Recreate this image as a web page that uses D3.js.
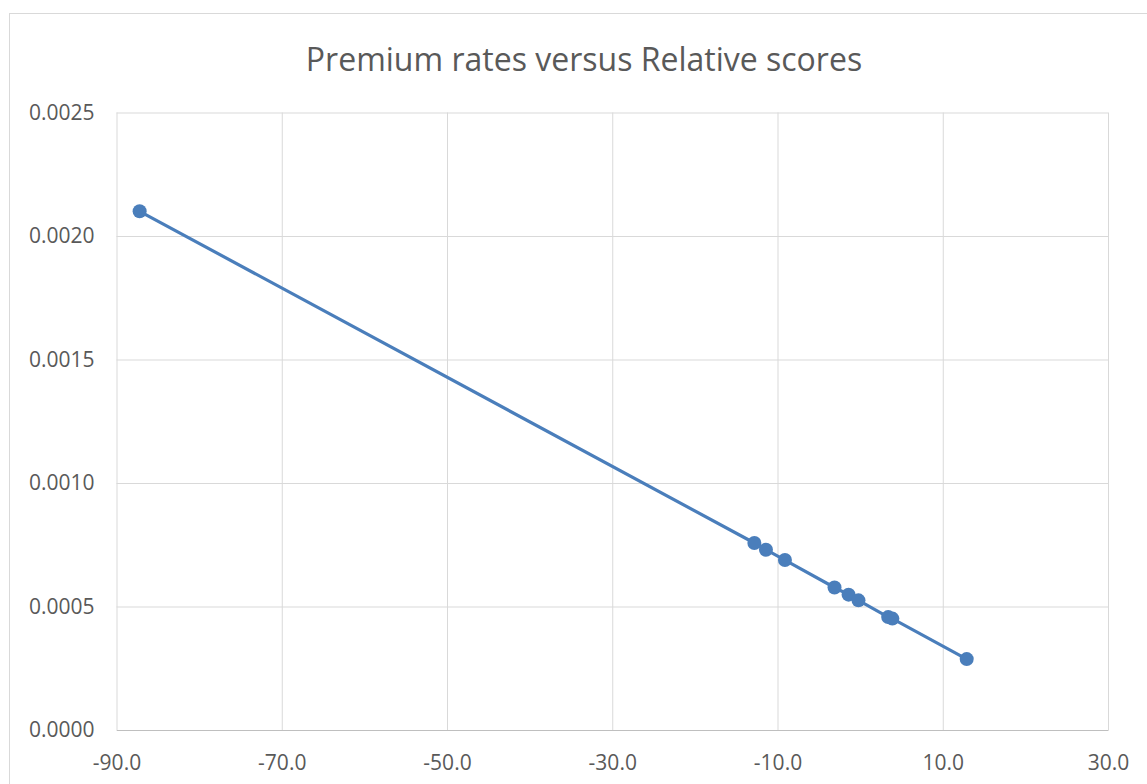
<!DOCTYPE html>
<html>
<head>
    <meta charset="utf-8">
    <title>Premium rates versus Relative scores</title>
    <style>
        body { margin: 0; background: #fff; }
        .grid line { stroke: #d9d9d9; stroke-width: 1px; }
        .tick text { font-family: "Open Sans", sans-serif; font-size: 21px; fill: #595959; }
        .title { font-family: "Open Sans", sans-serif; font-size: 32px; fill: #595959; }
    </style>
    <script src="https://d3js.org/d3.v7.min.js"></script>
</head>
<body>
    <div id="chart"></div>
    <script>
        // data
        const scores = [-87.2, -12.8, -11.4, -9.1, -3.1, -1.4, -0.2, 3.4, 3.9, 12.9];
        const rates = [0.00210, 0.000757, 0.000730, 0.000688, 0.000577, 0.000548, 0.000525, 0.000457, 0.000451, 0.000287];
        const xTicks = [-90, -70, -50, -30, -10, 10, 30];
        const yTicks = [0, 0.0005, 0.0010, 0.0015, 0.0020, 0.0025];

        const width = 1147;
        const height = 784;
        const margin = {top: 112.5, right: 39, bottom: 54, left: 116.5};

        const svg = d3.select("#chart").append("svg")
            .attr("width", width)
            .attr("height", height);

        // outer chart frame (runs off the right/bottom edge)
        svg.append("rect")
            .attr("x", 9.5).attr("y", 13.5)
            .attr("width", width).attr("height", height)
            .attr("fill", "none")
            .attr("stroke", "#d9d9d9");

        svg.append("text")
            .attr("class", "title")
            .attr("x", 584)
            .attr("y", 71)
            .attr("text-anchor", "middle")
            .text("Premium rates versus Relative scores");

        const x = d3.scaleLinear().domain([-90, 30]).range([margin.left, width - margin.right]);
        const y = d3.scaleLinear().domain([0, 0.0025]).range([height - margin.bottom, margin.top]);

        // plain hyphen for negatives, like the original
        const fmtX = d => d3.format(".1f")(d).replace("\u2212", "-");

        // vertical gridlines
        svg.append("g")
            .attr("class", "grid")
            .attr("transform", `translate(0,${height - margin.bottom})`)
            .call(d3.axisBottom(x).tickValues(xTicks).tickSize(-(height - margin.bottom - margin.top)).tickFormat(""))
            .call(g => g.select(".domain").remove());

        // horizontal gridlines
        svg.append("g")
            .attr("class", "grid")
            .attr("transform", `translate(${margin.left},0)`)
            .call(d3.axisLeft(y).tickValues(yTicks).tickSize(-(width - margin.left - margin.right)).tickFormat(""))
            .call(g => g.select(".domain").remove());

        // x axis labels
        svg.append("g")
            .attr("transform", `translate(0,${height - margin.bottom})`)
            .call(d3.axisBottom(x).tickValues(xTicks).tickSize(0).tickPadding(25).tickFormat(fmtX))
            .call(g => g.select(".domain").attr("stroke", "#bfbfbf"));

        // y axis labels
        svg.append("g")
            .attr("transform", `translate(${margin.left},0)`)
            .call(d3.axisLeft(y).tickValues(yTicks).tickSize(0).tickPadding(22).tickFormat(d3.format(".4f")))
            .call(g => g.select(".domain").remove());

        const points = scores.map((s, i) => [s, rates[i]]);

        svg.append("path")
            .datum(points)
            .attr("fill", "none")
            .attr("stroke", "#4a7ebb")
            .attr("stroke-width", 3.2)
            .attr("d", d3.line().x(d => x(d[0])).y(d => y(d[1])));

        svg.selectAll(".pt")
            .data(points)
            .enter().append("circle")
            .attr("class", "pt")
            .attr("cx", d => x(d[0]))
            .attr("cy", d => y(d[1]))
            .attr("r", 7)
            .attr("fill", "#4a7ebb");
    </script>
</body>
</html>
